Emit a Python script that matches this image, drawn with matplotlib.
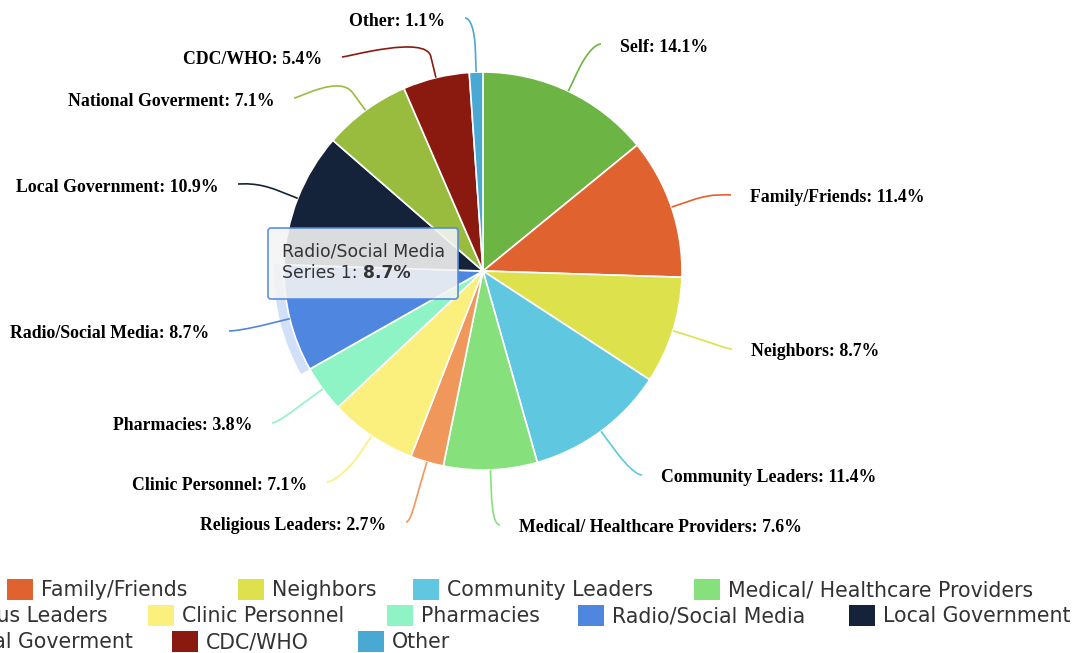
import matplotlib
matplotlib.use("Agg")
import numpy as np
import matplotlib.pyplot as plt
from matplotlib.patches import Wedge, Rectangle, FancyBboxPatch, PathPatch
from matplotlib.path import Path

# Who people turn to for information (share of responses, %)
sources = ["Self", "Family/Friends", "Neighbors", "Community Leaders",
           "Medical/ Healthcare Providers", "Religious Leaders", "Clinic Personnel",
           "Pharmacies", "Radio/Social Media", "Local Government",
           "National Goverment", "CDC/WHO", "Other"]
shares = [14.1, 11.4, 8.7, 11.4, 7.6, 2.7, 7.1, 3.8, 8.7, 10.9, 7.1, 5.4, 1.1]
series_name = "Series 1"
hovered = "Radio/Social Media"

colours = ["#6cb443", "#e0632f", "#dde14b", "#5fc7e0", "#86e07b", "#f0975b",
           "#fbf07d", "#8ef4c6", "#4f86e0", "#142339", "#99bc3f", "#8a1a10", "#49a9d2"]

# canvas in pixels, y measured from the top
W, H = 1076, 653
cx, cy, radius = 483, 271, 199

# end of each label connector (x, y from top)
label_ends = [(601, 44), (731, 195), (732, 349), (642, 475), (500, 525),
              (406, 522), (327, 482), (272, 423), (229, 331), (238, 184),
              (294, 98), (342, 57), (465, 18)]

# legend rows: y centre, and swatch x for each item (None = first item of a
# row, whose text is right-aligned at row_first_end and runs off the canvas)
row_y = [589, 615, 641]
row_first_end = [-32, 108, 133]
swatch_x = [None, 7, 238, 413, 694,
            None, 148, 387, 578, 849,
            None, 172, 358]

label_font = dict(family="Liberation Serif", weight="bold", size=12.8, color="black")
legend_font = dict(family="DejaVu Sans", size=14.8, color="#333333")
tip_font = dict(family="DejaVu Sans", size=12.4, color="#333333")


def flip(y):
    return H - y


fig = plt.figure(figsize=(W / 100, H / 100), dpi=100)
ax = fig.add_axes([0, 0, 1, 1])
wedges, _ = ax.pie(shares, colors=colours, startangle=90, counterclock=False,
                   radius=radius, center=(cx, flip(cy)),
                   wedgeprops=dict(edgecolor="white", linewidth=1.2))
ax.set_xlim(0, W)
ax.set_ylim(0, H)
ax.set_aspect("equal")
ax.axis("off")
renderer = fig.canvas.get_renderer()

# hover halo around the highlighted slice
hw = wedges[sources.index(hovered)]
ax.add_patch(Wedge((cx, flip(cy)), radius + 10, hw.theta1, hw.theta2, width=10,
                   facecolor=colours[sources.index(hovered)], alpha=0.25,
                   edgecolor="none", zorder=0))

# data labels with soft connectors
brk_off = 22
for w, name, val, col, (lx, ly) in zip(wedges, sources, shares, colours, label_ends):
    ang = np.deg2rad((w.theta1 + w.theta2) / 2)
    u = np.array([np.cos(ang), np.sin(ang)])
    c0 = np.array([cx, flip(cy)])
    touch = c0 + radius * u
    brk = c0 + (radius + brk_off) * u
    side = 1 if u[0] >= 0 else -1
    end = np.array([lx, flip(ly)])
    verts = [end, end - [5 * side, 0], 2 * brk - touch, brk, touch]
    codes = [Path.MOVETO, Path.CURVE4, Path.CURVE4, Path.CURVE4, Path.LINETO]
    ax.add_patch(PathPatch(Path(verts, codes), facecolor="none", edgecolor=col,
                           linewidth=1.2, zorder=3))
    if side > 0:
        ax.text(lx + 19, flip(ly + 3), f"{name}: {val}%", ha="left", va="center", **label_font)
    else:
        ax.text(lx - 20, flip(ly + 3), f"{name}: {val}%", ha="right", va="center", **label_font)

# tooltip for the hovered slice
ax.add_patch(FancyBboxPatch((270, flip(298)), 189, 70, boxstyle="round,pad=0,rounding_size=3",
                            facecolor="#b0b0b0", edgecolor="none", alpha=0.25, zorder=5))
ax.add_patch(FancyBboxPatch((268, flip(299)), 190, 71, boxstyle="round,pad=0,rounding_size=3",
                            facecolor="#f7f7f7", edgecolor="#4f86e0", alpha=0.85,
                            linewidth=1.3, zorder=6))
ax.text(282, flip(252), hovered, ha="left", va="center", zorder=7, **tip_font)
t = ax.text(282, flip(273), f"{series_name}: ", ha="left", va="center", zorder=7, **tip_font)
bb = t.get_window_extent(renderer)
ax.text(bb.x1, flip(273), f"{shares[sources.index(hovered)]}%", ha="left", va="center",
        zorder=7, fontweight="bold", **tip_font)

# legend
sw_w, sw_h, text_pad = 26, 21, 34
for i, (name, col) in enumerate(zip(sources, colours)):
    row = i // 5
    yc = flip(row_y[row])
    if swatch_x[i] is None:
        lt = ax.text(row_first_end[row], yc - 1, name, ha="right", va="center",
                     clip_on=False, **legend_font)
        sx = lt.get_window_extent(renderer).x0 - text_pad
    else:
        sx = swatch_x[i]
        ax.text(sx + text_pad, yc - 1, name, ha="left", va="center", **legend_font)
    ax.add_patch(Rectangle((sx, yc - sw_h / 2), sw_w, sw_h, facecolor=col,
                           edgecolor="none", clip_on=False))

fig.savefig("out.png", dpi=100)
